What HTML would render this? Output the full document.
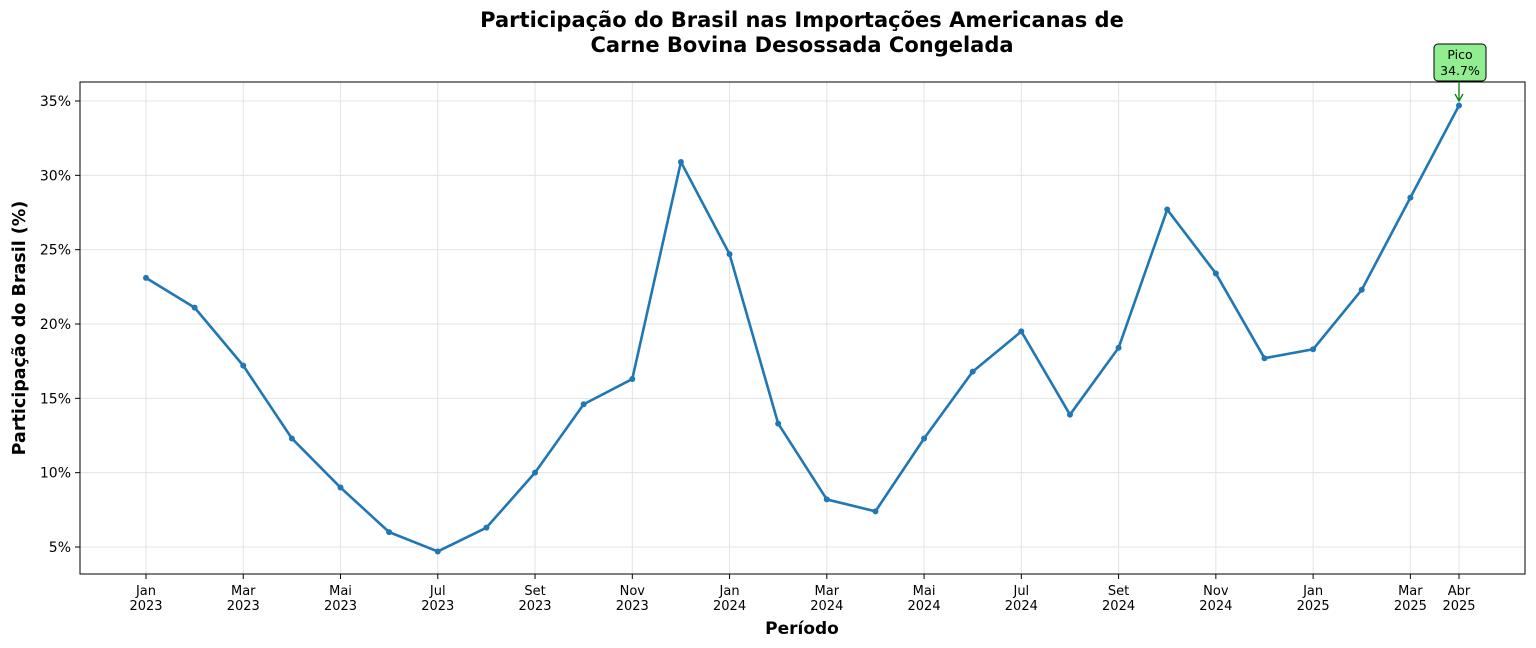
<!DOCTYPE html>
<html><head><meta charset="utf-8"><style>
html,body{margin:0;padding:0;background:#fff;}
svg{display:block;font-family:"DejaVu Sans","Liberation Sans",sans-serif;}
</style></head><body>
<svg id="chart" width="1536" height="648">
<text x="802" y="27" text-anchor="middle" font-size="21" font-weight="bold">Participação do Brasil nas Importações Americanas de</text>
<text x="802" y="52" text-anchor="middle" font-size="21" font-weight="bold">Carne Bovina Desossada Congelada</text>
<g id="grid"></g>
<rect x="80" y="82" width="1445" height="492" fill="none" stroke="#000" stroke-width="1"/>
<g id="axes"></g>
<g id="series"></g>
<text x="802" y="634" text-anchor="middle" font-size="17" font-weight="bold">Período</text>
<text transform="translate(25,328) rotate(-90)" text-anchor="middle" font-size="17.5" font-weight="bold">Participação do Brasil (%)</text>
<g>
<rect x="1434" y="44" width="52" height="37" rx="4" fill="#90ee90" stroke="#000" stroke-width="1"/>
<text x="1460" y="59" text-anchor="middle" font-size="12.5">Pico</text>
<text x="1460" y="75" text-anchor="middle" font-size="12.5">34.7%</text>
<line x1="1459" y1="82" x2="1459" y2="100" stroke="green" stroke-width="1.3"/>
<path d="M1455,94 L1459,101 L1463,94" fill="none" stroke="green" stroke-width="1.3"/>
</g>
</svg>
<script>
const categories=["2023-01","2023-02","2023-03","2023-04","2023-05","2023-06","2023-07","2023-08","2023-09","2023-10","2023-11","2023-12","2024-01","2024-02","2024-03","2024-04","2024-05","2024-06","2024-07","2024-08","2024-09","2024-10","2024-11","2024-12","2025-01","2025-02","2025-03","2025-04"];
const shareValues=[23.1,21.1,17.2,12.3,9.0,6.0,4.7,6.3,10.0,14.6,16.3,30.9,24.7,13.3,8.2,7.4,12.3,16.8,19.5,13.9,18.4,27.7,23.4,17.7,18.3,22.3,28.5,34.7];
const yTicks=[5,10,15,20,25,30,35];
const xTickIdx=[0,2,4,6,8,10,12,14,16,18,20,22,24,26,27];
const xTickLabels=[["Jan","2023"],["Mar","2023"],["Mai","2023"],["Jul","2023"],["Set","2023"],["Nov","2023"],["Jan","2024"],["Mar","2024"],["Mai","2024"],["Jul","2024"],["Set","2024"],["Nov","2024"],["Jan","2025"],["Mar","2025"],["Abr","2025"]];
const NS="http://www.w3.org/2000/svg";
const xS=i=>146+i*(1459-146)/27;
const yS=v=>547-(v-5)*(446/30);
function mk(t,a,p){const e=document.createElementNS(NS,t);for(const k in a)e.setAttribute(k,a[k]);p.appendChild(e);return e;}
const grid=document.getElementById('grid'),axes=document.getElementById('axes'),ser=document.getElementById('series');
yTicks.forEach(v=>{
 const y=yS(v);
 const g=mk('line',{x1:80,x2:1525,y1:y,y2:y,stroke:'#e3e3e3','stroke-width':1},grid);
 
 
 mk('line',{x1:75,x2:80,y1:y,y2:y,stroke:'#000'},axes);
 const t=mk('text',{x:71,y:y+5,'text-anchor':'end','font-size':14},axes);
 t.textContent=v+'%';
 
 
});
xTickIdx.forEach((idx,k)=>{
 const x=xS(idx);
 const g=mk('line',{x1:x,x2:x,y1:82,y2:574,stroke:'#e3e3e3','stroke-width':1},grid);
 
 
 mk('line',{x1:x,x2:x,y1:574,y2:579,stroke:'#000'},axes);
 const t=mk('text',{x:x,y:595,'text-anchor':'middle','font-size':13},axes);
 
 
 const a=mk('tspan',{x:x,dy:0},t);a.textContent=xTickLabels[k][0];
 const b=mk('tspan',{x:x,dy:15},t);b.textContent=xTickLabels[k][1];
});
const pts=shareValues.map((v,i)=>xS(i)+','+yS(v)).join(' ');
const pl=mk('polyline',{points:pts,fill:'none',stroke:'#1f77b4','stroke-width':2.6,'stroke-linejoin':'round'},ser);


shareValues.forEach((v,i)=>{
 const c=mk('circle',{cx:xS(i),cy:yS(v),r:3,fill:'#1f77b4'},ser);
 
 
});
</script>
</body></html>
